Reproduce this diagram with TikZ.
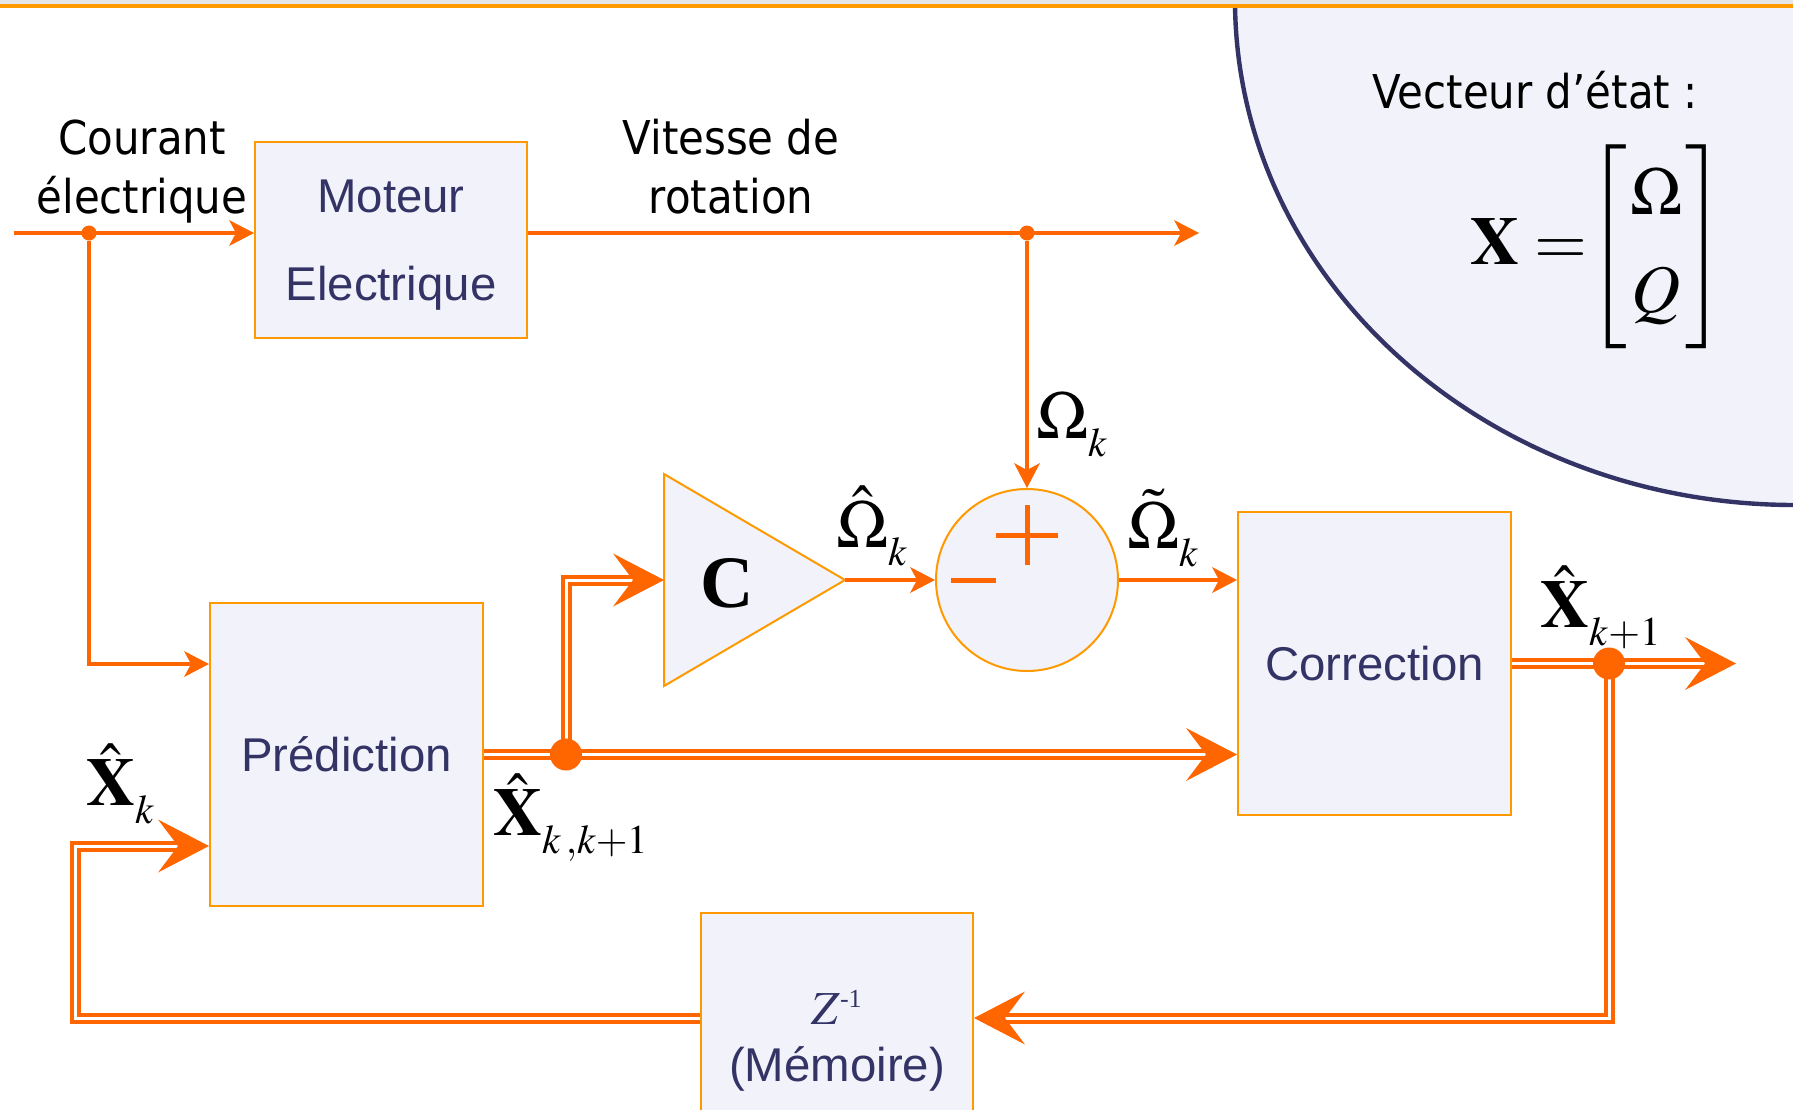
\documentclass[tikz,border=0pt]{standalone}
\usepackage{mathptmx}
\usepackage[no-math]{fontspec}
\setmainfont{Liberation Sans}
\newfontfamily\lblfont{DejaVu Sans}[FakeStretch=0.9]
\newfontfamily\timesfont{Liberation Serif}
\usetikzlibrary{arrows.meta}

\definecolor{wirecol}{RGB}{255,102,0}
\definecolor{boxline}{RGB}{255,153,0}
\definecolor{boxfill}{RGB}{242,242,250}
\definecolor{navy}{RGB}{51,51,102}
\definecolor{topgrey}{RGB}{230,230,230}

\newcommand{\lsub}[1]{_{\raisebox{-4pt}{$\scriptscriptstyle #1$}}}

\tikzset{
  blok/.style={draw=boxline, fill=boxfill, line width=1pt, text=navy, align=center, inner sep=0pt,
    font=\fontsize{23.7}{44}\selectfont},
  lbl/.style={anchor=base, align=center, inner sep=0pt, font=\lblfont\fontsize{23.3}{29.5}\selectfont},
  mlabel/.style={anchor=base west, inner sep=0pt, font=\fontsize{34}{40.8}\selectfont},
  wire/.style={draw=wirecol, line width=2.3pt, -{Stealth[length=12.5pt, width=13pt, inset=3.5pt, line width=0pt]}},
  bus/.style={draw=wirecol, line width=2pt, double=white, double distance=1.5pt,
    -{Stealth[length=25.5pt, width=26.5pt, inset=10pt, line width=0pt]}},
  jdot/.style={circle, fill=wirecol, inner sep=0pt, minimum size=7.5pt},
  bigdot/.style={circle, fill=wirecol, inner sep=0pt, minimum size=16pt},
  sign/.style={draw=wirecol, line width=2.5pt},
}

\begin{document}
\begin{tikzpicture}[x=0.5pt, y=-0.5pt]
  \useasboundingbox (0,0) rectangle (1793,1109);
  \clip (0,0) rectangle (1793,1109);
  \fill[white] (0,0) rectangle (1793,1109);

  \draw[draw=navy, line width=2.2pt, fill=boxfill] (1795,0) ellipse [x radius=560, y radius=505];
  \fill[topgrey] (0,0) rectangle (1793,4);
  \draw[boxline, line width=1.75pt] (0,5.75) -- (1793,5.75);

  \node[lbl] (veclbl) at (1535,108) {Vecteur d’état :};
  \node[mlabel] (xeq) at (1470,264) {\arraycolsep=1.5pt
    $\mathbf{X}=\mkern-4mu\left[\begin{array}{c}\Omega\\[8pt]Q\end{array}\right]$};

  \node[blok, minimum width=136pt, minimum height=98pt, text depth=0pt] (mot) at (391,240) {Moteur\\Electrique};
  \node[blok, minimum width=136.5pt, minimum height=151.5pt] (pred) at (346.5,754.5) {Prédiction};
  \node[blok, minimum width=136.5pt, minimum height=151.5pt] (corr) at (1374.5,663.5) {Correction};
  \node[blok, minimum width=136pt, minimum height=128pt, font=\fontsize{23.7}{28.5}\selectfont] (mem) at (837,1041)
    {$Z^{\mbox{\timesfont\fontsize{13}{13}\selectfont -1}}$\\(Mémoire)};
  \node[draw=boxline, fill=boxfill, line width=1pt, circle, minimum size=91pt, inner sep=0pt] (sum) at (1027,580) {};

  \draw[draw=boxline, fill=boxfill, line width=1pt] (664,474) -- (845,580) -- (664,686) -- cycle;
  \node[inner sep=0pt, font=\timesfont\bfseries\fontsize{37}{40}\selectfont] (amp) at (727,583) {C};
  \coordinate (ampin) at (664,580);
  \coordinate (amptip) at (845,580);

  \draw[sign] ([shift={(-31,-45)}]sum.center) -- ++(62,0);
  \draw[sign] ([shift={(0,-75)}]sum.center) -- ++(0,60);
  \draw[sign] ([shift={(-76,0)}]sum.center) -- ++(45,0);

  \node[lbl] (curlbl) at (142,213) {Courant\\électrique};
  \node[lbl] (vitlbl) at (731,213) {Vitesse de\\rotation};

  \coordinate (cin) at (14,233);
  \coordinate (vout) at (1199,233);
  \node[jdot] (jin) at (89,233) {};
  \node[jdot] (jout) at (1027,233) {};

  \draw[wire] (cin) -- (cin -| mot.west);
  \draw[wire] (jin) |- (pred.west |- 0,664);
  \draw[wire] (mot.east |- vout) -- (vout);
  \draw[wire] (jout) -- (sum.north);
  \draw[wire] (amptip) -- (sum.west);
  \draw[wire] (sum.east) -- (corr.west |- sum.east);

  \coordinate (jpred) at (566,754.5);
  \coordinate (jcorr) at (1609,663.5);
  \coordinate (xout) at (1736,663.5);
  \coordinate (fbk) at (75,846);

  \draw[bus] (pred.east) -- (corr.west |- pred.east);
  \draw[bus] (jpred) |- (ampin);
  \draw[bus] (corr.east) -- (xout);
  \draw[bus] (jcorr) |- (mem.east |- 0,1018);
  \draw[bus] (mem.west |- 0,1018) -| (fbk) -- (fbk -| pred.west);

  \node[bigdot] (jpreddot) at (jpred) {};
  \node[bigdot] (jcorrdot) at (jcorr) {};

  \node[mlabel] (omk) at (1036,438) {$\Omega\lsub{k}$};
  \node[mlabel] (omhat) at (836,547) {$\hat{\Omega}\lsub{k}$};
  \node[mlabel] (omtil) at (1127,548) {$\tilde{\Omega}\lsub{k}$};
  \node[mlabel] (xpred) at (493,835) {$\hat{\mathbf{X}}\lsub{k\mkern2mu,k+1}$};
  \node[mlabel] (xk) at (86,805) {$\hat{\mathbf{X}}\lsub{k}$};
  \node[mlabel] (xnext) at (1540,627) {$\hat{\mathbf{X}}\lsub{k+1}$};
\end{tikzpicture}
\end{document}
